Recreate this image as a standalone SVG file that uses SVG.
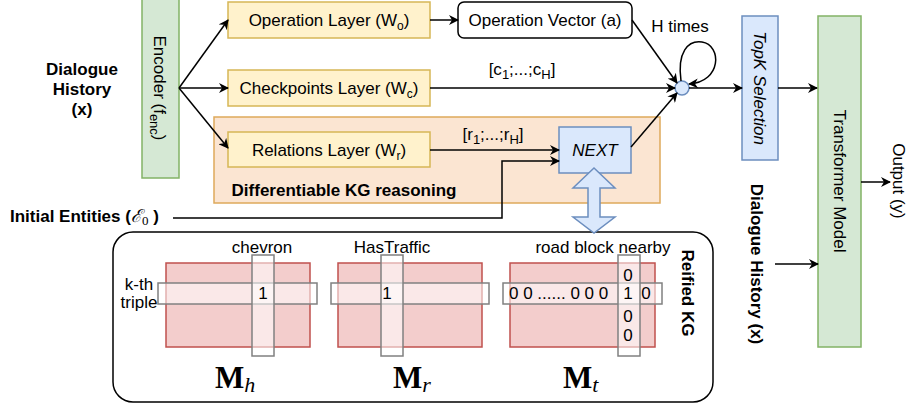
<svg xmlns="http://www.w3.org/2000/svg" width="909" height="408" viewBox="0 0 909 408">
<defs>
<marker id="arr" viewBox="0 0 10 10" refX="9" refY="5" markerWidth="10" markerHeight="10" markerUnits="userSpaceOnUse" orient="auto">
<path d="M0,0 L10,5 L0,10 L3,5 z" fill="#000"/>
</marker>
<style>
text{font-family:"Liberation Sans",Arial,sans-serif;font-size:17px;fill:#000}
.b{font-weight:bold}
.yel{fill:#fff2cc;stroke:#d6b656;stroke-width:1.5}
.blu{fill:#dae8fc;stroke:#6c8ebf;stroke-width:1.5}
.grn{fill:#d5e8d4;stroke:#82b366;stroke-width:1.5}
.mat{fill:#f3cdcc;stroke:#c0504d;stroke-width:1.5}
.band{fill:#ffffff;fill-opacity:0.55;stroke:#808080;stroke-width:1.5}
.ln{fill:none;stroke:#000;stroke-width:1.5}
.la{fill:none;stroke:#000;stroke-width:1.5;marker-end:url(#arr)}
.m{font-family:"Liberation Serif","Times New Roman",serif;font-size:31px;font-weight:bold}
.ms{font-family:"Liberation Serif","Times New Roman",serif;font-size:22px;font-style:italic;font-weight:normal}
</style>
</defs>
<rect width="909" height="408" fill="#fff"/>

<g id="kg-container">
<rect x="214" y="117" width="446" height="86" fill="#fbe5d2" stroke="#dea95b" stroke-width="1.5"/>
<text class="b" x="344" y="196" text-anchor="middle">Differentiable KG reasoning</text>
</g>

<g id="dialogue-history">
<text class="b" x="82" y="75" text-anchor="middle">Dialogue</text>
<text class="b" x="82" y="95" text-anchor="middle">History</text>
<text class="b" x="82" y="115" text-anchor="middle">(x)</text>
</g>

<g id="encoder">
<rect x="142" y="-2" width="37" height="180" class="grn"/>
<text transform="translate(160,88) rotate(90)" text-anchor="middle" y="6">Encoder (f<tspan font-size="13" dy="4">enc</tspan><tspan dy="-4">)</tspan></text>
</g>

<g id="operation-layer">
<rect x="228" y="2" width="202" height="36" class="yel"/>
<text x="329" y="26" text-anchor="middle">Operation Layer (W<tspan font-size="12" dy="4">o</tspan><tspan dy="-4">)</tspan></text>
</g>

<g id="checkpoints-layer">
<rect x="228" y="70" width="202" height="36" class="yel"/>
<text x="329" y="94" text-anchor="middle">Checkpoints Layer (W<tspan font-size="12" dy="4">c</tspan><tspan dy="-4">)</tspan></text>
</g>

<g id="relations-layer">
<rect x="228" y="132" width="202" height="35" class="yel"/>
<text x="329" y="156" text-anchor="middle">Relations Layer (W<tspan font-size="12" dy="4">r</tspan><tspan dy="-4">)</tspan></text>
</g>

<g id="operation-vector">
<rect x="458" y="2" width="174" height="36" rx="6" fill="#fff" stroke="#000" stroke-width="1.5"/>
<text x="545" y="26" text-anchor="middle">Operation Vector (a)</text>
</g>

<g id="next">
<rect x="559" y="127" width="72" height="46" class="blu"/>
<text x="595" y="156" text-anchor="middle" font-style="italic">NEXT</text>
</g>

<g id="combine">
<circle cx="682" cy="88" r="7" class="blu"/>
</g>

<g id="topk">
<rect x="742" y="16" width="36" height="144" class="blu"/>
<text transform="translate(760,88) rotate(90)" text-anchor="middle" y="6" font-style="italic">TopK Selection</text>
</g>

<g id="transformer">
<rect x="818" y="16" width="43" height="331" class="grn"/>
<text transform="translate(840,181) rotate(90)" text-anchor="middle" y="6">Transformer Model</text>
</g>

<g id="output">
<text transform="translate(899,181) rotate(90)" text-anchor="middle" y="6">Output (y)</text>
</g>

<g id="dialogue-history-2">
<text class="b" transform="translate(757,264) rotate(90)" text-anchor="middle" y="6">Dialogue History (x)</text>
</g>

<g id="initial-entities">
<text class="b" x="10" y="222">Initial Entities (<tspan font-family="'DejaVu Serif',serif" font-weight="normal" font-style="italic" font-size="18">ℰ</tspan><tspan font-family="'Liberation Serif',serif" font-weight="normal" font-size="13" dy="3">0</tspan><tspan dy="-3"> )</tspan></text>
</g>

<g id="reified-kg">
<rect x="113" y="232" width="600" height="170" rx="20" fill="#fff" stroke="#000" stroke-width="1.5"/>
<text class="b" transform="translate(688,293) rotate(90)" text-anchor="middle" y="6">Reified KG</text>
</g>

<g id="matrix-h">
<rect x="166" y="263" width="144" height="84" class="mat"/>
<rect x="158" y="283" width="159" height="21" class="band"/>
<rect x="252" y="255" width="22" height="101" class="band"/>
<text x="262" y="253" text-anchor="middle">chevron</text>
<text x="263" y="299" text-anchor="middle">1</text>
<text x="139" y="290" text-anchor="middle">k-th</text>
<text x="139" y="308" text-anchor="middle">triple</text>
<text class="m" x="215" y="388">M<tspan class="ms" dy="4">h</tspan></text>
</g>

<g id="matrix-r">
<rect x="338" y="263" width="144" height="84" class="mat"/>
<rect x="331" y="283" width="158" height="21" class="band"/>
<rect x="381" y="255" width="22" height="101" class="band"/>
<text x="392" y="253" text-anchor="middle">HasTraffic</text>
<text x="387" y="299" text-anchor="middle">1</text>
<text class="m" x="393" y="388">M<tspan class="ms" dy="4">r</tspan></text>
</g>

<g id="matrix-t">
<rect x="510" y="263" width="145" height="84" class="mat"/>
<rect x="503" y="283" width="159" height="21" class="band"/>
<rect x="618" y="255" width="22" height="101" class="band"/>
<text x="603" y="253" text-anchor="middle">road block nearby</text>
<text x="509" y="299">0 0 ...... 0 0 0</text>
<text x="628" y="299" text-anchor="middle">1</text>
<text x="646" y="299" text-anchor="middle">0</text>
<text x="628" y="281" text-anchor="middle">0</text>
<text x="628" y="322" text-anchor="middle">0</text>
<text x="628" y="341" text-anchor="middle">0</text>
<text class="m" x="563" y="388">M<tspan class="ms" dy="4">t</tspan></text>
</g>

<g id="connectors">
<path class="la" d="M179,88 L228,20"/>
<path class="la" d="M179,88 L228,88"/>
<path class="la" d="M179,88 L228,148"/>
<path class="la" d="M430,20 L458,20"/>
<path class="la" d="M430,88 L675,88"/>
<text x="522" y="75" text-anchor="middle">[c<tspan font-size="13" dy="4">1</tspan><tspan dy="-4">;...;c</tspan><tspan font-size="13" dy="4">H</tspan><tspan dy="-4">]</tspan></text>
<path class="la" d="M430,150 L559,150"/>
<text x="493" y="140" text-anchor="middle">[r<tspan font-size="13" dy="4">1</tspan><tspan dy="-4">;...;r</tspan><tspan font-size="13" dy="4">H</tspan><tspan dy="-4">]</tspan></text>
<path class="la" d="M173,218 L502,218 L502,161 L559,161"/>
<path class="la" d="M632,20 L677,83"/>
<path class="la" d="M631,147 L677,93"/>
<path class="la" d="M681,81 C 677,52 688,40 702,42 C 722,45 722,82 689,84"/>
<text x="680" y="32" text-anchor="middle">H times</text>
<path class="la" d="M689,88 L742,88"/>
<path class="la" d="M778,88 L817,88"/>
<path class="la" d="M775,264 L818,264"/>
<path class="la" d="M861,182 L890,182"/>
<polygon points="594,168 615,188 600,188 600,217 615,217 594,233 573,217 588,217 588,188 573,188" class="blu"/>
</g>
</svg>
